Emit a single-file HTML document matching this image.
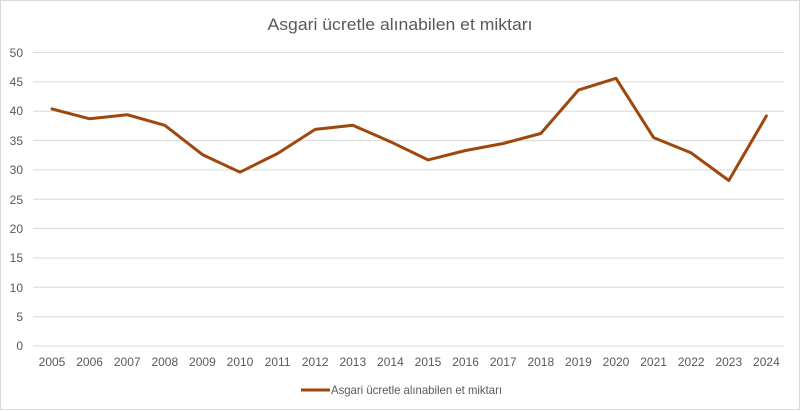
<!DOCTYPE html>
<html><head><meta charset="utf-8"><style>body{margin:0;background:#fff}svg{display:block}</style></head><body>
<svg width="800" height="411" xmlns="http://www.w3.org/2000/svg" font-family="Liberation Sans, sans-serif">
<rect x="0.5" y="0.5" width="799" height="409" fill="#fff" stroke="#d9d9d9"/>
<text x="400" y="30" font-size="17" fill="#595959" text-anchor="middle" textLength="265" lengthAdjust="spacingAndGlyphs">Asgari ücretle alınabilen et miktarı</text>
<g stroke="#d9d9d9" stroke-width="1">
<line x1="33" x2="784" y1="52.5" y2="52.5"/><line x1="33" x2="784" y1="81.9" y2="81.9"/><line x1="33" x2="784" y1="111.2" y2="111.2"/><line x1="33" x2="784" y1="140.6" y2="140.6"/><line x1="33" x2="784" y1="169.9" y2="169.9"/><line x1="33" x2="784" y1="199.3" y2="199.3"/><line x1="33" x2="784" y1="228.6" y2="228.6"/><line x1="33" x2="784" y1="258" y2="258"/><line x1="33" x2="784" y1="287.3" y2="287.3"/><line x1="33" x2="784" y1="316.7" y2="316.7"/><line x1="33" x2="784" y1="346" y2="346"/>
</g>
<g font-size="12" fill="#595959" text-anchor="end">
<text x="23" y="57">50</text><text x="23" y="86">45</text><text x="23" y="115">40</text><text x="23" y="145">35</text><text x="23" y="174">30</text><text x="23" y="204">25</text><text x="23" y="233">20</text><text x="23" y="262">15</text><text x="23" y="292">10</text><text x="23" y="321">5</text><text x="23" y="350">0</text>
</g>
<g font-size="12" fill="#595959" text-anchor="middle">
<text x="52" y="366">2005</text><text x="89.6" y="366">2006</text><text x="127.2" y="366">2007</text><text x="164.8" y="366">2008</text><text x="202.4" y="366">2009</text><text x="240" y="366">2010</text><text x="277.6" y="366">2011</text><text x="315.2" y="366">2012</text><text x="352.8" y="366">2013</text><text x="390.4" y="366">2014</text><text x="428" y="366">2015</text><text x="465.6" y="366">2016</text><text x="503.2" y="366">2017</text><text x="540.8" y="366">2018</text><text x="578.4" y="366">2019</text><text x="616" y="366">2020</text><text x="653.6" y="366">2021</text><text x="691.2" y="366">2022</text><text x="728.8" y="366">2023</text><text x="766.4" y="366">2024</text>
</g>
<polyline fill="none" stroke="#9e480e" stroke-width="3" stroke-linejoin="round" stroke-linecap="round" points="52,108.9 89.6,118.8 127.2,114.7 164.8,125.3 202.4,154.6 240,172.2 277.6,153.5 315.2,129.4 352.8,125.3 390.4,141.7 428,159.9 465.6,150.5 503.2,143.5 540.8,133.5 578.4,90.1 616,78.3 653.6,137.6 691.2,152.9 728.8,180.5 766.4,115.9"/>
<line x1="301" x2="330" y1="390" y2="390" stroke="#9e480e" stroke-width="3"/>
<text x="331" y="394" font-size="12" fill="#595959" textLength="171" lengthAdjust="spacingAndGlyphs">Asgari ücretle alınabilen et miktarı</text>
</svg>
</body></html>
